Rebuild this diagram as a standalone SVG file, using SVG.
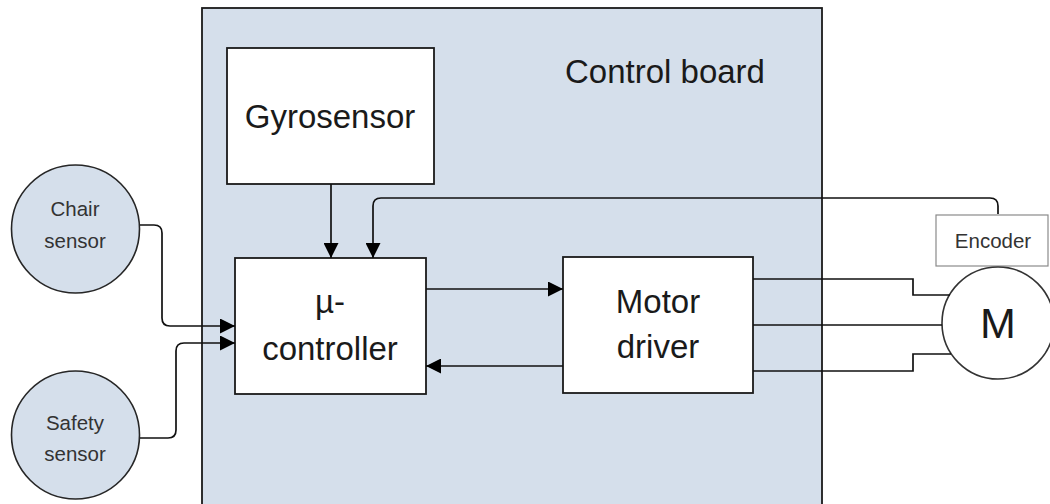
<svg xmlns="http://www.w3.org/2000/svg" width="1050" height="504" viewBox="0 0 1050 504">
<style>
.box{fill:#ffffff;stroke:#1a1a1a;stroke-width:1.8}
.sens{fill:#d5dfeb;stroke:#262626;stroke-width:1.6}
.t{font-family:"Liberation Sans",Arial,sans-serif;fill:#1a1a1a;text-anchor:middle}
.big{font-size:33px}
.small{font-size:20.5px;fill:#333333}
.wire{fill:none;stroke:#111111;stroke-width:1.7}
</style>
<defs>
<marker id="ah" markerUnits="userSpaceOnUse" markerWidth="15" markerHeight="15" refX="15" refY="7.5" orient="auto">
<path d="M0,0 L15,7.5 L0,15 Z" fill="#000000"/>
</marker>
</defs>
<g id="control-board">
<rect x="202" y="8" width="620" height="510" fill="#d5dfeb" stroke="#1a1a1a" stroke-width="1.8"/>
<text class="t big" x="665" y="83">Control board</text>
</g>
<g id="gyrosensor">
<rect class="box" x="227" y="48" width="207" height="136"/>
<text class="t big" x="330" y="128">Gyrosensor</text>
</g>
<g id="controller">
<rect class="box" x="235" y="258" width="191" height="136"/>
<text class="t big" x="330" y="313">µ-</text>
<text class="t big" x="330" y="360">controller</text>
</g>
<g id="motor-driver">
<rect class="box" x="563" y="257" width="190" height="136"/>
<text class="t big" x="658" y="313">Motor</text>
<text class="t big" x="658" y="358">driver</text>
</g>
<g id="chair-sensor">
<circle class="sens" cx="75.5" cy="229" r="64"/>
<text class="t small" x="75" y="216">Chair</text>
<text class="t small" x="75" y="248">sensor</text>
</g>
<g id="safety-sensor">
<circle class="sens" cx="75.5" cy="435" r="64"/>
<text class="t small" x="75" y="430">Safety</text>
<text class="t small" x="75" y="461">sensor</text>
</g>
<g id="encoder">
<rect x="936" y="215" width="112" height="51" fill="#ffffff" stroke="#8a8a8a" stroke-width="1.2"/>
<text class="t small" x="993" y="248">Encoder</text>
</g>
<g id="motor">
<circle cx="998" cy="323" r="56" fill="#ffffff" stroke="#333333" stroke-width="1.6"/>
<text class="t" x="998" y="338" style="font-size:43px">M</text>
</g>
<g id="connectors">
<path class="wire" d="M140,225 H154 Q162,225 162,233 V318 Q162,326 170,326 H235" marker-end="url(#ah)"/>
<path class="wire" d="M140,438 H168 Q176,438 176,430 V351 Q176,343 184,343 H235" marker-end="url(#ah)"/>
<path class="wire" d="M331,184 V258" marker-end="url(#ah)"/>
<path class="wire" d="M998,214 V206 Q998,198 990,198 H381 Q373,198 373,206 V258" marker-end="url(#ah)"/>
<path class="wire" d="M426,289 H563" marker-end="url(#ah)"/>
<path class="wire" d="M563,366 H426" marker-end="url(#ah)"/>
<path class="wire" d="M753,279 H913 V295 H950"/>
<path class="wire" d="M753,325 H942"/>
<path class="wire" d="M753,371 H913 V354 H951"/>
</g>
</svg>
